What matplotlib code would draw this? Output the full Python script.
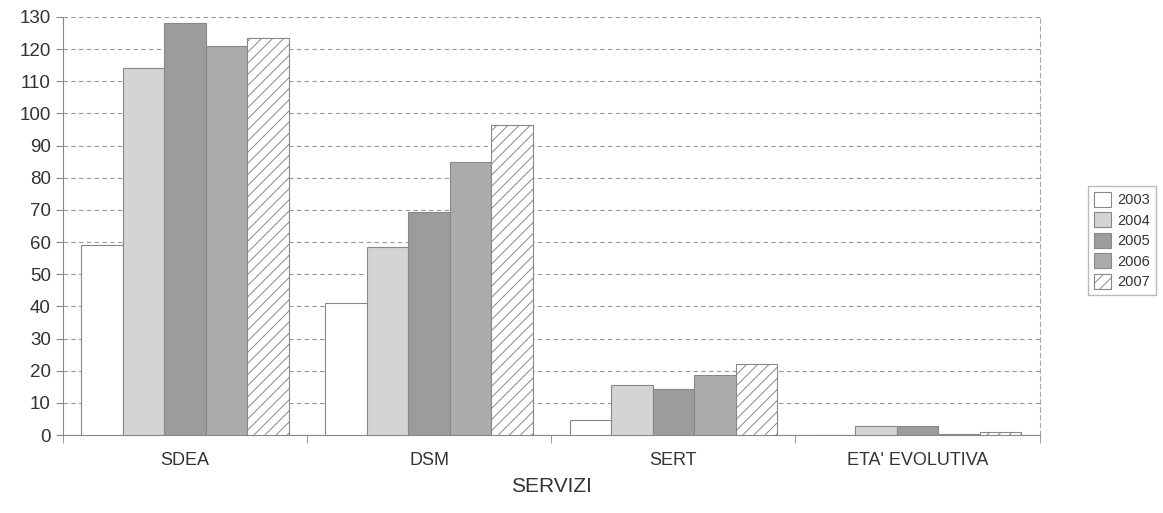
import matplotlib.pyplot as plt
import numpy as np

servizi = ['SDEA', 'DSM', 'SERT', "ETA' EVOLUTIVA"]
anni = ['2003', '2004', '2005', '2006', '2007']
v2003 = [59, 41, 4.7, 0]
v2004 = [114, 58.5, 15.5, 2.8]
v2005 = [128, 69.5, 14.3, 2.8]
v2006 = [121, 84.8, 18.7, 0.3]
v2007 = [123.5, 96.5, 22.1, 1.0]
valori = [v2003, v2004, v2005, v2006, v2007]

colori = ['white', '#d4d4d4', '#9c9c9c', '#ababab', 'white']
tratteggi = [None, None, None, None, '///']

plt.rcParams['font.family'] = 'Liberation Sans'
plt.rcParams['hatch.color'] = '#bbbbbb'
plt.rcParams['hatch.linewidth'] = 0.7

fig = plt.figure(figsize=(11.63, 5.13), dpi=100)
ax = fig.add_axes([0.054, 0.152, 0.84, 0.815])

x = np.arange(len(servizi))
w = 0.17
for i, (anno, vals) in enumerate(zip(anni, valori)):
    ax.bar(x + (i - 2) * w, vals, w, color=colori[i], edgecolor='#888888',
           linewidth=0.8, hatch=tratteggi[i], label=anno, zorder=3)

ax.set_xlim(-0.5, 3.5)
ax.set_ylim(0, 130)
ax.set_yticks(range(0, 131, 10))
ax.yaxis.grid(True, linestyle=(0, (4, 3)), color='#999999', linewidth=0.8, zorder=0)

ax.set_xticks(x)
ax.set_xticklabels(servizi, fontsize=13, color='#333333')
ax.set_xticks(np.arange(-0.5, 4, 1), minor=True)
ax.tick_params(axis='x', which='major', length=0, pad=12)
ax.tick_params(axis='x', which='minor', length=6, color='#888888')
ax.tick_params(axis='y', labelsize=13.5, labelcolor='#333333', color='#888888', length=5)
ax.set_xlabel('SERVIZI', fontsize=15, color='#333333', labelpad=6)

for s in ['left', 'bottom']:
    ax.spines[s].set_color('#888888')
ax.spines['top'].set_visible(False)
ax.spines['right'].set_color('#aaaaaa')
ax.spines['right'].set_linestyle((0, (4, 3)))

leg = ax.legend(loc='center left', bbox_to_anchor=(1.042, 0.465), fontsize=10.5,
                frameon=True, fancybox=False, edgecolor='#aaaaaa',
                handlelength=1.2, handleheight=1.2, handletextpad=0.4,
                labelspacing=0.35, borderpad=0.4)
for t in leg.get_texts():
    t.set_color('#333333')

fig.savefig('out.png', dpi=100)
